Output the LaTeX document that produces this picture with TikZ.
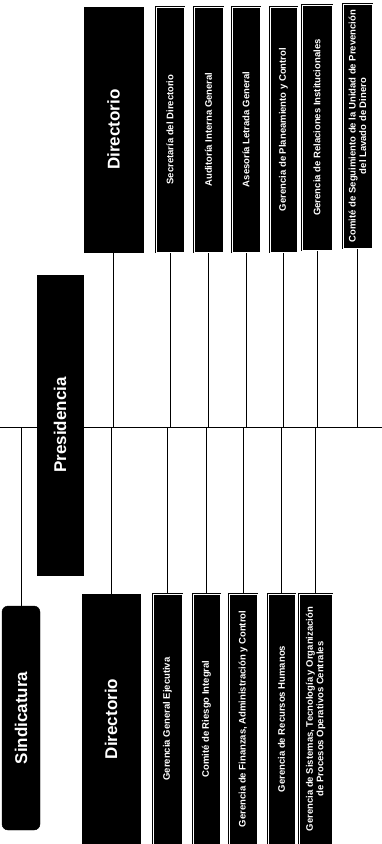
\documentclass[tikz,border=0pt]{standalone}
\usepackage{fontspec}
\setmainfont{Liberation Sans}
\usetikzlibrary{backgrounds}
\tikzset{
  bigbox/.style={fill=black, draw=black, text=white, rotate=90, inner sep=0pt,
    font=\fontsize{17}{20}\selectfont\bfseries},
  smallbox/.style={fill=black, draw=black, double=white, double distance=0.8pt,
    line width=0.7pt, text=white, rotate=90, inner sep=0pt, align=center,
    font=\fontsize{9.5}{10.5}\selectfont\bfseries},
  conn/.style={draw=black, line width=0.8pt}
}
\begin{document}
\begin{tikzpicture}[x=1pt,y=-1pt]
\useasboundingbox (0,0) rectangle (382,844);
% horizontal bus
\coordinate (hl) at (0,427);
\coordinate (hr) at (382,427);
% upper row
\node[bigbox, minimum width=245pt, minimum height=59pt] (dirU) at (113.5,129.5) {Directorio};
\node[smallbox, minimum width=245pt, minimum height=28pt] (u1) at (170,129.5) {Secretaría del Directorio};
\node[smallbox, minimum width=245pt, minimum height=29pt] (u2) at (208.5,129.5) {Auditoría Interna General};
\node[smallbox, minimum width=245pt, minimum height=28pt] (u3) at (246,129.5) {Asesoría Letrada General};
\node[smallbox, minimum width=245pt, minimum height=27pt] (u4) at (283.5,129.5) {Gerencia de Planeamiento y Control};
\node[smallbox, minimum width=245pt, minimum height=30pt] (u5) at (317,127.5) {Gerencia de Relaciones Institucionales};
\node[smallbox, minimum width=244pt, minimum height=29pt] (u6) at (357.5,126) {Comité de Seguimiento de la Unidad de Prevención\\del Lavado de Dinero};
% middle
\node[bigbox, minimum width=300pt, minimum height=46pt] (pres) at (60,425) {Presidencia};
\node[bigbox, minimum width=224pt, minimum height=38pt, rounded corners=6pt] (sind) at (21,718) {Sindicatura};
% lower row
\node[bigbox, minimum width=250pt, minimum height=58pt] (dirL) at (111,719) {Directorio};
\node[smallbox, minimum width=250pt, minimum height=29pt] (l1) at (167.5,719) {Gerencia General Ejecutiva};
\node[smallbox, minimum width=250pt, minimum height=27pt] (l2) at (206.5,719) {Comité de Riesgo Integral};
\node[smallbox, minimum width=250pt, minimum height=28pt] (l3) at (243,719) {Gerencia de Finanzas, Administración y Control};
\node[smallbox, minimum width=250pt, minimum height=27pt] (l4) at (281.5,719) {Gerencia de Recursos Humanos};
\node[smallbox, minimum width=250pt, minimum height=33pt] (l5) at (315.5,719) {Gerencia de Sistemas, Tecnología y Organización\\de Procesos Operativos Centrales};
\begin{scope}[on background layer]
  \draw[conn] (hl) -- (hr);
  \foreach \n in {dirU,u1,u2,u3,u4,u5,u6}{\draw[conn] (\n) -- (\n |- hl);}
  \foreach \n in {dirL,l1,l2,l3,l4,l5,sind}{\draw[conn] (\n) -- (\n |- hl);}
\end{scope}
\end{tikzpicture}
\end{document}
